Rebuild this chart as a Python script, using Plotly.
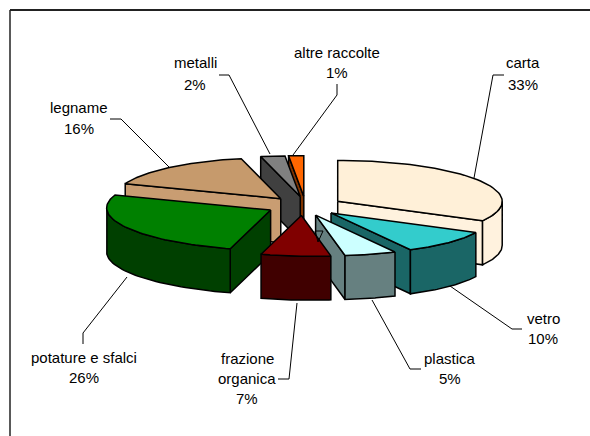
import numpy as np
import plotly.graph_objects as go

categories = ["carta", "vetro", "plastica", "frazione<br>organica", "potature e sfalci",
              "legname", "metalli", "altre raccolte"]
values = [33, 10, 5, 7, 26, 16, 2, 1]
top_colors = ["#FFF0D8", "#33CCCC", "#CCFFFF", "#800000", "#008000", "#C69A6C", "#808080", "#FF6600"]
side_colors = ["#FFF2DE", "#1A6666", "#668080", "#400000", "#004000", "#C99D72", "#404040", "#803300"]
draw_order = [7, 6, 5, 0, 4, 1, 2, 3]

# projection constants of the flattened, exploded pie (pixels)
CX, CY, R, K, DEPTH, EXPLODE = 305.0, 206.0, 163.0, 0.25, 44.0, 38.0
# sideways skew of the view at each slice boundary (pixels)
EDGE_SKEW = [0, 2, 10, 9, 10, -4, -9, -5, 0]

label_lines = {
    0: [(523, 62, "carta"), (523, 84, "33%")],
    1: [(543, 318, "vetro"), (543, 338, "10%")],
    2: [(450, 358, "plastica"), (450, 378, "5%")],
    3: [(247, 358, "frazione"), (247, 378, "organica"), (247, 398, "7%")],
    4: [(84, 357, "potature e sfalci"), (84, 377, "26%")],
    5: [(79, 107, "legname"), (79, 128, "16%")],
    6: [(195, 62, "metalli"), (195, 84, "2%")],
    7: [(337, 52, "altre raccolte"), (337, 72, "1%")],
}
leaders = [
    [(504, 75), (493, 75), (474, 178)],
    [(522, 329), (512, 329), (450, 286)],
    [(421, 369), (410, 369), (372, 300)],
    [(278, 379), (289, 379), (297, 303)],
    [(83, 344), (83, 333), (127, 277)],
    [(110, 119), (121, 119), (169, 167)],
    [(219, 75), (229, 75), (270, 154)],
    [(337, 84), (337, 95), (293, 155)],
]
stray_mark = [(315, 231), (323, 231), (318, 242), (315, 231)]
frame_top = [(10, 10), (590, 10)]
frame_left = [(10, 10), (10, 436)]

fig = go.Figure()


def poly(xs, ys, color):
    fig.add_trace(go.Scatter(x=xs, y=ys, mode="lines", fill="toself", fillcolor=color,
                             line=dict(color="black", width=1.5), hoverinfo="skip",
                             showlegend=False))


def plain_line(pts, width, color="black"):
    xs, ys = zip(*pts)
    fig.add_trace(go.Scatter(x=xs, y=ys, mode="lines", line=dict(color=color, width=width),
                             hoverinfo="skip", showlegend=False))


edges = np.radians(np.concatenate([[0], np.cumsum(values)]) * 3.6)


def project(theta):
    return R * np.sin(theta) + np.interp(theta, edges, EDGE_SKEW), -K * R * np.cos(theta)


slices = []
for i in range(len(values)):
    a, b = edges[i], edges[i + 1]
    mid = (a + b) / 2
    slices.append((a, b, CX + EXPLODE * np.sin(mid), CY - K * EXPLODE * np.cos(mid)))

for i in draw_order:
    a, b, ax, ay = slices[i]
    # radial walls that face the viewer
    for edge, visible in ((a, np.sin(a) < -1e-9), (b, np.sin(b) > 1e-9)):
        if visible:
            px, py = project(edge)
            poly([ax, ax + px, ax + px, ax, ax],
                 [ay, ay + py, ay + py + DEPTH, ay + DEPTH, ay], side_colors[i])
    # outer rim, front half only
    lo, hi = max(a, np.pi / 2), min(b, 3 * np.pi / 2)
    if hi > lo:
        t = np.linspace(lo, hi, 40)
        px, py = project(t)
        poly(np.r_[ax + px, (ax + px)[::-1], ax + px[0]],
             np.r_[ay + py, (ay + py + DEPTH)[::-1], ay + py[0]], side_colors[i])
    # top face
    t = np.linspace(a, b, 60)
    px, py = project(t)
    poly(np.r_[ax, ax + px, ax], np.r_[ay, ay + py, ay], top_colors[i])

for pts in leaders:
    plain_line(pts, 1)
plain_line(stray_mark, 1)
plain_line(frame_top, 2, "#222222")
plain_line(frame_left, 1.5, "#222222")

annotations = []
for lines in label_lines.values():
    for x, y, text in lines:
        annotations.append(dict(x=x, y=y, text=text, showarrow=False, xanchor="center",
                                yanchor="middle", font=dict(family="Liberation Sans", size=15,
                                                            color="black")))

fig.update_layout(
    width=590, height=436, margin=dict(l=0, r=0, t=0, b=0),
    paper_bgcolor="white", plot_bgcolor="white", showlegend=False,
    xaxis=dict(range=[0, 590], visible=False, fixedrange=True),
    yaxis=dict(range=[436, 0], visible=False, fixedrange=True),
    annotations=annotations,
)
fig.write_html("out.html", config=dict(displayModeBar=False),
               post_script="document.body.style.margin='0';document.body.style.overflow='hidden';")
